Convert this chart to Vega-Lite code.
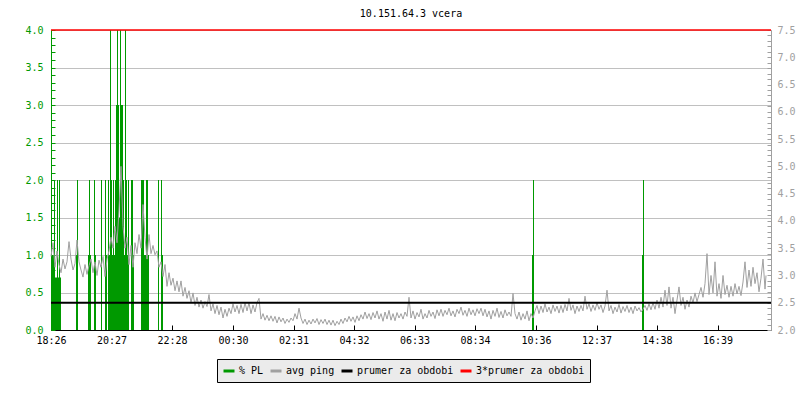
{
  "$schema": "https://vega.github.io/schema/vega-lite/v6.json",
  "width": 720,
  "height": 300,
  "autosize": "none",
  "padding": {"left": 51, "top": 30, "right": 29, "bottom": 70},
  "background": "#ffffff",
  "title": {"text": "10.151.64.3 vcera", "font": "DejaVu Sans Mono", "fontSize": 10, "fontWeight": "normal", "color": "#000000", "anchor": "middle", "frame": "group", "baseline": "alphabetic", "offset": 13, "dy": 15},
  "config": {"view": {"stroke": null}, "font": "DejaVu Sans Mono"},
  "datasets": {
    "pl": [{"t":1,"v":2},{"t":3,"v":1},{"t":5,"v":1},{"t":7,"v":2},{"t":9,"v":0.7},{"t":11,"v":0.7},{"t":13,"v":2},{"t":15,"v":0.7},{"t":17,"v":2},{"t":19,"v":0.7},{"t":51,"v":1},{"t":53,"v":2},{"t":75,"v":1},{"t":77,"v":2},{"t":79,"v":1},{"t":87,"v":2},{"t":89,"v":1},{"t":101,"v":2},{"t":109,"v":2},{"t":111,"v":1},{"t":115,"v":2},{"t":117,"v":1},{"t":119,"v":4},{"t":121,"v":2},{"t":123,"v":1},{"t":125,"v":2},{"t":127,"v":1},{"t":129,"v":2},{"t":131,"v":3},{"t":133,"v":4},{"t":135,"v":3},{"t":137,"v":1.5},{"t":139,"v":4},{"t":141,"v":3},{"t":143,"v":3},{"t":145,"v":2},{"t":147,"v":1},{"t":149,"v":4},{"t":151,"v":2},{"t":153,"v":1},{"t":155,"v":2},{"t":161,"v":2},{"t":163,"v":2},{"t":165,"v":1},{"t":181,"v":2},{"t":183,"v":2},{"t":185,"v":2},{"t":187,"v":1},{"t":189,"v":1},{"t":191,"v":2},{"t":193,"v":2},{"t":195,"v":1},{"t":215,"v":2},{"t":221,"v":2},{"t":223,"v":1},{"t":963,"v":1},{"t":965,"v":2},{"t":1183,"v":1},{"t":1185,"v":2}],
    "ping": [
      {"t":0,"p":3.35},{"t":4,"p":3.6},{"t":8,"p":3.15},{"t":12,"p":3.45},{"t":16,"p":3.2},
      {"t":20,"p":3.05},{"t":24,"p":3.3},{"t":28,"p":3.12},{"t":32,"p":3.25},{"t":36,"p":3.62},{"t":40,"p":3.3},{"t":44,"p":3.1},{"t":48,"p":3.22},
      {"t":52,"p":3.65},{"t":56,"p":3.25},
      {"t":60,"p":3.1},{"t":64,"p":2.97},{"t":68,"p":3.2},{"t":72,"p":3.02},{"t":76,"p":3.18},
      {"t":80,"p":3.3},{"t":84,"p":3.05},{"t":88,"p":3.25},{"t":92,"p":3.0},{"t":96,"p":3.28},
      {"t":100,"p":3.15},{"t":104,"p":3.35},{"t":108,"p":2.98},{"t":112,"p":3.3},
      {"t":116,"p":3.45},{"t":120,"p":3.7},{"t":124,"p":3.5},
      {"t":128,"p":3.9},{"t":132,"p":3.6},
      {"t":136,"p":4.2},{"t":140,"p":5.0},
      {"t":144,"p":3.9},{"t":148,"p":3.5},
      {"t":152,"p":3.7},{"t":156,"p":3.2},{"t":160,"p":3.55},{"t":164,"p":3.15},{"t":168,"p":3.6},
      {"t":172,"p":3.4},{"t":176,"p":3.75},
      {"t":180,"p":3.5},{"t":184,"p":4.3},{"t":188,"p":3.7},
      {"t":192,"p":3.3},{"t":196,"p":3.75},
      {"t":200,"p":3.4},{"t":204,"p":3.55},{"t":208,"p":3.38},
      {"t":212,"p":3.45},{"t":216,"p":3.15},
      {"t":220,"p":3.25},{"t":224,"p":2.98},{"t":228,"p":3.2},
      {"t":232,"p":2.8},{"t":236,"p":3.05},{"t":240,"p":2.82},
      {"t":244,"p":2.95},{"t":248,"p":2.72},{"t":252,"p":2.9},{"t":256,"p":2.7},
      {"t":260,"p":2.9},{"t":264,"p":2.62},{"t":268,"p":2.78},{"t":272,"p":2.58},{"t":276,"p":2.72},
      {"t":280,"p":2.5},{"t":284,"p":2.68},{"t":288,"p":2.45},{"t":292,"p":2.6},{"t":296,"p":2.42},
      {"t":300,"p":2.55},{"t":304,"p":2.4},{"t":308,"p":2.52},{"t":312,"p":2.43},{"t":316,"p":2.65},
      {"t":320,"p":2.35},{"t":324,"p":2.48},{"t":328,"p":2.3},{"t":332,"p":2.45},{"t":336,"p":2.28},
      {"t":340,"p":2.42},{"t":344,"p":2.22},{"t":348,"p":2.38},{"t":352,"p":2.25},{"t":356,"p":2.4},
      {"t":360,"p":2.3},{"t":364,"p":2.48},{"t":368,"p":2.33},{"t":372,"p":2.45},{"t":376,"p":2.3},{"t":380,"p":2.47},{"t":384,"p":2.32},{"t":388,"p":2.5},
      {"t":392,"p":2.35},{"t":396,"p":2.5},{"t":400,"p":2.3},{"t":404,"p":2.46},{"t":408,"p":2.33},{"t":412,"p":2.5},{"t":416,"p":2.58},
      {"t":420,"p":2.2},{"t":424,"p":2.3},{"t":428,"p":2.18},{"t":432,"p":2.27},{"t":436,"p":2.17},{"t":440,"p":2.26},{"t":444,"p":2.16},{"t":448,"p":2.25},
      {"t":452,"p":2.13},{"t":456,"p":2.24},{"t":460,"p":2.15},{"t":464,"p":2.22},{"t":468,"p":2.12},{"t":472,"p":2.2},{"t":476,"p":2.14},
      {"t":480,"p":2.22},{"t":484,"p":2.17},{"t":488,"p":2.3},{"t":492,"p":2.2},{"t":496,"p":2.4},
      {"t":500,"p":2.22},{"t":504,"p":2.12},{"t":508,"p":2.2},{"t":512,"p":2.1},{"t":516,"p":2.18},{"t":520,"p":2.11},{"t":524,"p":2.2},{"t":528,"p":2.13},{"t":532,"p":2.21},{"t":536,"p":2.1},{"t":540,"p":2.19},{"t":544,"p":2.12},{"t":548,"p":2.2},{"t":552,"p":2.1},{"t":556,"p":2.18},
      {"t":560,"p":2.09},{"t":564,"p":2.18},{"t":568,"p":2.08},{"t":572,"p":2.16},{"t":576,"p":2.1},{"t":580,"p":2.2},{"t":584,"p":2.12},{"t":588,"p":2.22},
      {"t":592,"p":2.15},{"t":596,"p":2.25},{"t":600,"p":2.16},{"t":604,"p":2.24},{"t":608,"p":2.14},{"t":612,"p":2.26},{"t":616,"p":2.17},
      {"t":620,"p":2.28},{"t":624,"p":2.2},{"t":628,"p":2.33},{"t":632,"p":2.21},{"t":636,"p":2.3},{"t":640,"p":2.19},{"t":644,"p":2.32},{"t":648,"p":2.22},{"t":652,"p":2.35},{"t":656,"p":2.2},
      {"t":660,"p":2.3},{"t":664,"p":2.16},{"t":668,"p":2.33},{"t":672,"p":2.2},{"t":676,"p":2.36},{"t":680,"p":2.18},{"t":684,"p":2.3},{"t":688,"p":2.17},{"t":692,"p":2.32},{"t":696,"p":2.22},
      {"t":700,"p":2.3},{"t":704,"p":2.2},{"t":708,"p":2.33},{"t":712,"p":2.25},{"t":716,"p":2.6},
      {"t":720,"p":2.22},{"t":724,"p":2.35},{"t":728,"p":2.2},{"t":732,"p":2.32},{"t":736,"p":2.24},{"t":740,"p":2.38},{"t":744,"p":2.2},{"t":748,"p":2.3},{"t":752,"p":2.22},{"t":756,"p":2.36},{"t":760,"p":2.25},{"t":764,"p":2.33},{"t":768,"p":2.21},{"t":772,"p":2.37},{"t":776,"p":2.26},
      {"t":780,"p":2.38},{"t":784,"p":2.25},{"t":788,"p":2.36},{"t":792,"p":2.28},{"t":796,"p":2.4},{"t":800,"p":2.26},{"t":804,"p":2.35},{"t":808,"p":2.24},{"t":812,"p":2.38},{"t":816,"p":2.3},{"t":820,"p":2.42},{"t":824,"p":2.27},{"t":828,"p":2.36},{"t":832,"p":2.25},{"t":836,"p":2.4},{"t":840,"p":2.28},{"t":844,"p":2.37},{"t":848,"p":2.26},{"t":852,"p":2.39},{"t":856,"p":2.3},
      {"t":860,"p":2.4},{"t":864,"p":2.26},{"t":868,"p":2.38},{"t":872,"p":2.24},{"t":876,"p":2.35},{"t":880,"p":2.2},{"t":884,"p":2.36},{"t":888,"p":2.25},{"t":892,"p":2.4},{"t":896,"p":2.23},{"t":900,"p":2.34},{"t":904,"p":2.22},{"t":908,"p":2.37},{"t":912,"p":2.26},{"t":916,"p":2.33},
      {"t":920,"p":2.25},{"t":924,"p":2.67},{"t":928,"p":2.3},
      {"t":932,"p":2.2},{"t":936,"p":2.33},{"t":940,"p":2.18},{"t":944,"p":2.3},{"t":948,"p":2.2},{"t":952,"p":2.35},{"t":956,"p":2.17},{"t":960,"p":2.3},{"t":964,"p":2.22},
      {"t":968,"p":2.35},{"t":972,"p":2.45},{"t":976,"p":2.3},{"t":980,"p":2.44},{"t":984,"p":2.32},{"t":988,"p":2.48},{"t":992,"p":2.33},{"t":996,"p":2.42},{"t":1000,"p":2.3},{"t":1004,"p":2.46},{"t":1008,"p":2.34},{"t":1012,"p":2.44},{"t":1016,"p":2.31},
      {"t":1020,"p":2.45},{"t":1024,"p":2.32},{"t":1028,"p":2.47},{"t":1032,"p":2.35},{"t":1036,"p":2.58},{"t":1040,"p":2.36},{"t":1044,"p":2.46},{"t":1048,"p":2.3},{"t":1052,"p":2.44},{"t":1056,"p":2.34},
      {"t":1060,"p":2.45},{"t":1064,"p":2.35},{"t":1068,"p":2.62},{"t":1072,"p":2.38},{"t":1076,"p":2.48},{"t":1080,"p":2.34},{"t":1084,"p":2.46},{"t":1088,"p":2.36},{"t":1092,"p":2.5},{"t":1096,"p":2.38},
      {"t":1100,"p":2.46},{"t":1104,"p":2.32},{"t":1108,"p":2.44},{"t":1112,"p":2.73},{"t":1116,"p":2.35},{"t":1120,"p":2.45},{"t":1124,"p":2.3},{"t":1128,"p":2.42},{"t":1132,"p":2.33},{"t":1136,"p":2.47},{"t":1140,"p":2.31},{"t":1144,"p":2.43},{"t":1148,"p":2.34},{"t":1152,"p":2.45},{"t":1156,"p":2.32},{"t":1160,"p":2.42},{"t":1164,"p":2.3},{"t":1168,"p":2.44},{"t":1172,"p":2.35},{"t":1176,"p":2.41},
      {"t":1180,"p":2.33},{"t":1184,"p":2.38},{"t":1188,"p":2.45},{"t":1192,"p":2.36},{"t":1196,"p":2.48},{"t":1200,"p":2.37},{"t":1204,"p":2.5},{"t":1208,"p":2.38},{"t":1212,"p":2.55},{"t":1216,"p":2.4},
      {"t":1220,"p":2.6},{"t":1224,"p":2.42},{"t":1228,"p":2.73},{"t":1232,"p":2.45},{"t":1236,"p":2.79},{"t":1240,"p":2.4},{"t":1244,"p":2.6},{"t":1248,"p":2.3},{"t":1252,"p":2.55},{"t":1256,"p":2.79},
      {"t":1260,"p":2.45},{"t":1264,"p":2.6},{"t":1268,"p":2.38},{"t":1272,"p":2.55},{"t":1276,"p":2.42},
      {"t":1280,"p":2.62},{"t":1284,"p":2.5},{"t":1288,"p":2.68},{"t":1292,"p":2.52},{"t":1296,"p":2.65},
      {"t":1300,"p":2.78},{"t":1304,"p":2.6},{"t":1308,"p":2.85},{"t":1312,"p":3.4},
      {"t":1316,"p":2.65},{"t":1320,"p":3.0},{"t":1324,"p":2.68},{"t":1328,"p":3.25},
      {"t":1332,"p":2.62},{"t":1336,"p":2.85},{"t":1340,"p":2.58},{"t":1344,"p":3.0},{"t":1348,"p":2.65},{"t":1352,"p":2.82},{"t":1356,"p":2.6},
      {"t":1360,"p":2.8},{"t":1364,"p":2.62},{"t":1368,"p":2.85},{"t":1372,"p":2.66},{"t":1376,"p":2.8},{"t":1380,"p":2.63},{"t":1384,"p":2.88},{"t":1388,"p":3.25},
      {"t":1392,"p":2.78},{"t":1396,"p":3.1},{"t":1400,"p":2.8},{"t":1404,"p":3.15},{"t":1408,"p":2.85},
      {"t":1412,"p":3.05},{"t":1416,"p":2.7},{"t":1420,"p":2.95},{"t":1424,"p":3.3},{"t":1428,"p":2.75},{"t":1430,"p":3.0}
    ],
    "lines": [{"k": "prumer za obdobi", "m": 2.5}, {"k": "3*prumer za obdobi", "m": 7.5}]
  },
  "layer": [
    {
      "data": {"name": "pl"},
      "mark": {"type": "rule", "strokeWidth": 1},
      "encoding": {
        "x": {"field": "t", "type": "quantitative", "scale": {"domain": [0, 1440], "nice": false, "zero": false},
          "axis": {"title": null, "orient": "bottom", "values": [0,121,242,364,485,606,727,848,970,1091,1212,1333],
            "labelExpr": "pad(toString(floor(((1106+datum.value)%1440)/60)),2,'0','left') + ':' + pad(toString((1106+datum.value)%60),2,'0','left')",
            "grid": false, "domainColor": "#000000", "tickColor": "#000000", "tickSize": -5, "labelPadding": 10,
            "labelFont": "DejaVu Sans Mono", "labelFontSize": 10, "labelColor": "#000000", "labelOverlap": false, "labelFlush": false}},
        "y": {"field": "v", "type": "quantitative", "scale": {"domain": [0, 4], "nice": false, "zero": true, "clamp": true},
          "axis": {"title": null, "orient": "left",
            "values": [0,0.1,0.2,0.3,0.4,0.5,0.6,0.7,0.8,0.9,1,1.1,1.2,1.3,1.4,1.5,1.6,1.7,1.8,1.9,2,2.1,2.2,2.3,2.4,2.5,2.6,2.7,2.8,2.9,3,3.1,3.2,3.3,3.4,3.5,3.6,3.7,3.8,3.9,4],
            "labelExpr": "round(datum.value*10)%5==0 ? format(datum.value,'.1f') : ''",
            "grid": true, "gridColor": "#c0c0c0", "gridOpacity": {"condition": {"test": "round(datum.value*10)%5==0", "value": 1}, "value": 0},
            "domainColor": "#009900", "tickColor": "#009900", "tickSize": -4, "labelPadding": 12,
            "labelFont": "DejaVu Sans Mono", "labelFontSize": 10, "labelColor": "#009900", "labelOverlap": false, "labelFlush": false}},
        "y2": {"datum": 0},
        "color": {"datum": "% PL", "type": "nominal", "title": null,
          "scale": {"domain": ["% PL", "avg ping", "prumer za obdobi", "3*prumer za obdobi"], "range": ["#009900", "#a0a0a0", "#000000", "#ff0000"]},
          "legend": {"title": null, "orient": "none", "legendX": 166, "legendY": 329, "direction": "horizontal",
            "fillColor": "#ebebeb", "strokeColor": "#000000", "padding": 5, "cornerRadius": 0,
            "symbolType": "stroke", "symbolStrokeWidth": 3, "symbolSize": 121, "labelOffset": 3, "columnPadding": 0,
            "labelFont": "DejaVu Sans Mono", "labelFontSize": 10, "labelColor": "#000000"}}
      }
    },
    {
      "data": {"name": "ping"},
      "encoding": {
        "y": {"type": "quantitative", "scale": {"domain": [2, 7.5], "nice": false, "zero": false},
          "axis": {"title": null, "orient": "right",
            "values": [2,2.1,2.2,2.3,2.4,2.5,2.6,2.7,2.8,2.9,3,3.1,3.2,3.3,3.4,3.5,3.6,3.7,3.8,3.9,4,4.1,4.2,4.3,4.4,4.5,4.6,4.7,4.8,4.9,5,5.1,5.2,5.3,5.4,5.5,5.6,5.7,5.8,5.9,6,6.1,6.2,6.3,6.4,6.5,6.6,6.7,6.8,6.9,7,7.1,7.2,7.3,7.4,7.5],
            "labelExpr": "round(datum.value*10)%5==0 ? format(datum.value,'.1f') : ''",
            "grid": false, "domainColor": "#a0a0a0", "tickColor": "#a0a0a0", "tickSize": -4, "labelPadding": 10,
            "labelFont": "DejaVu Sans Mono", "labelFontSize": 10, "labelColor": "#a0a0a0", "labelOverlap": false, "labelFlush": false}}
      },
      "layer": [
        {
          "mark": {"type": "line", "strokeWidth": 1},
          "encoding": {
            "x": {"field": "t", "type": "quantitative"},
            "y": {"field": "p"},
            "color": {"datum": "avg ping", "type": "nominal", "title": null}
          }
        },
        {
          "data": {"name": "lines"},
          "transform": [{"filter": "datum.m < 5"}],
          "mark": {"type": "rule", "strokeWidth": 2},
          "encoding": {
            "y": {"field": "m"},
            "color": {"field": "k", "type": "nominal", "title": null}
          }
        },
        {
          "data": {"name": "lines"},
          "transform": [{"filter": "datum.m > 5"}],
          "mark": {"type": "rule", "strokeWidth": 1.5},
          "encoding": {
            "y": {"field": "m"},
            "color": {"field": "k", "type": "nominal", "title": null}
          }
        }
      ]
    }
  ],
  "resolve": {"scale": {"y": "independent"}}
}
